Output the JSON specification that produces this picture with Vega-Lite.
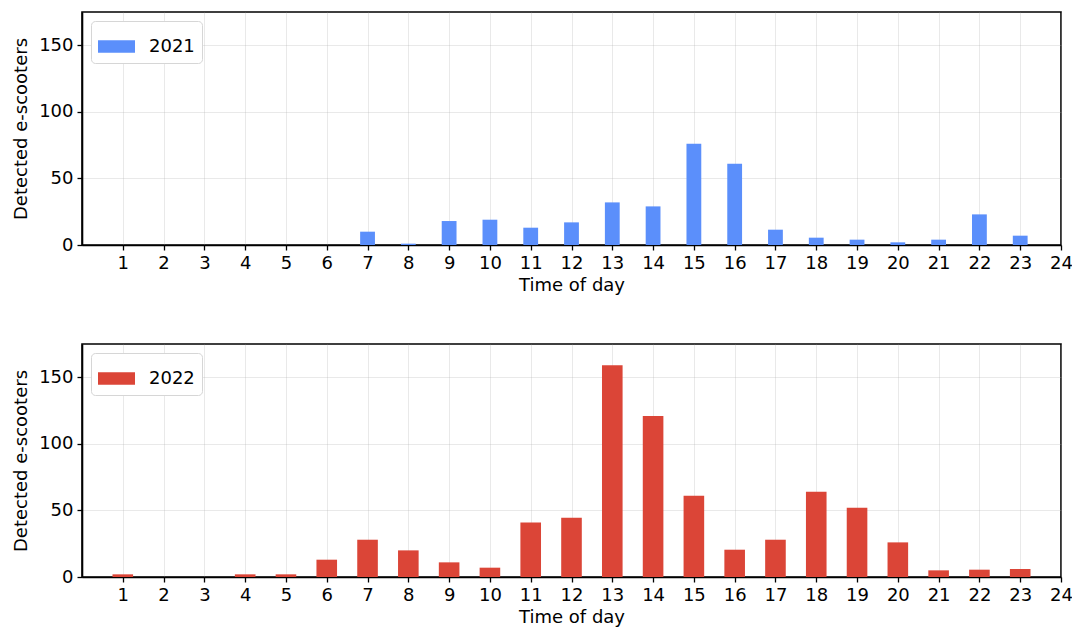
{
  "$schema": "https://vega.github.io/schema/vega-lite/v6.json",
  "padding": {"left": 11, "top": 11, "right": 0, "bottom": 0},
  "background": "white",
  "datasets": {
    "scooters": [
      {"hour": 1, "count": 0, "year": "2021"},
      {"hour": 2, "count": 0, "year": "2021"},
      {"hour": 3, "count": 0, "year": "2021"},
      {"hour": 4, "count": 0, "year": "2021"},
      {"hour": 5, "count": 0, "year": "2021"},
      {"hour": 6, "count": 0, "year": "2021"},
      {"hour": 7, "count": 10, "year": "2021"},
      {"hour": 8, "count": 1, "year": "2021"},
      {"hour": 9, "count": 18, "year": "2021"},
      {"hour": 10, "count": 19, "year": "2021"},
      {"hour": 11, "count": 13, "year": "2021"},
      {"hour": 12, "count": 17, "year": "2021"},
      {"hour": 13, "count": 32, "year": "2021"},
      {"hour": 14, "count": 29, "year": "2021"},
      {"hour": 15, "count": 76, "year": "2021"},
      {"hour": 16, "count": 61, "year": "2021"},
      {"hour": 17, "count": 11.5, "year": "2021"},
      {"hour": 18, "count": 5.5, "year": "2021"},
      {"hour": 19, "count": 4, "year": "2021"},
      {"hour": 20, "count": 2, "year": "2021"},
      {"hour": 21, "count": 4, "year": "2021"},
      {"hour": 22, "count": 23, "year": "2021"},
      {"hour": 23, "count": 7, "year": "2021"},
      {"hour": 1, "count": 2, "year": "2022"},
      {"hour": 2, "count": 0, "year": "2022"},
      {"hour": 3, "count": 0, "year": "2022"},
      {"hour": 4, "count": 2, "year": "2022"},
      {"hour": 5, "count": 2, "year": "2022"},
      {"hour": 6, "count": 13, "year": "2022"},
      {"hour": 7, "count": 28, "year": "2022"},
      {"hour": 8, "count": 20, "year": "2022"},
      {"hour": 9, "count": 11, "year": "2022"},
      {"hour": 10, "count": 7, "year": "2022"},
      {"hour": 11, "count": 41, "year": "2022"},
      {"hour": 12, "count": 44.5, "year": "2022"},
      {"hour": 13, "count": 159, "year": "2022"},
      {"hour": 14, "count": 121, "year": "2022"},
      {"hour": 15, "count": 61, "year": "2022"},
      {"hour": 16, "count": 20.5, "year": "2022"},
      {"hour": 17, "count": 28, "year": "2022"},
      {"hour": 18, "count": 64, "year": "2022"},
      {"hour": 19, "count": 52, "year": "2022"},
      {"hour": 20, "count": 26, "year": "2022"},
      {"hour": 21, "count": 5, "year": "2022"},
      {"hour": 22, "count": 5.5, "year": "2022"},
      {"hour": 23, "count": 6, "year": "2022"}
    ]
  },
  "spacing": 48,
  "vconcat": [
    {
      "width": 979,
      "height": 233,
      "data": {"name": "scooters"},
      "transform": [{"filter": "datum.year === '2021'"}],
      "mark": {"type": "bar", "width": 14.8},
      "encoding": {
        "x": {"field": "hour", "type": "quantitative", "title": "Time of day",
              "scale": {"domain": [0, 24], "nice": false, "zero": false, "padding": 0},
              "axis": {"values": [1,2,3,4,5,6,7,8,9,10,11,12,13,14,15,16,17,18,19,20,21,22,23,24], "labelFlush": false}},
        "y": {"field": "count", "type": "quantitative", "title": "Detected e-scooters",
              "scale": {"domain": [0, 175], "nice": false},
              "axis": {"values": [0, 50, 100, 150]}},
        "color": {"field": "year", "type": "nominal",
                  "scale": {"domain": ["2021"], "range": ["#5b8ffb"]},
                  "legend": {"title": null}}
      }
    },
    {
      "width": 979,
      "height": 233,
      "data": {"name": "scooters"},
      "transform": [{"filter": "datum.year === '2022'"}],
      "mark": {"type": "bar", "width": 20.6},
      "encoding": {
        "x": {"field": "hour", "type": "quantitative", "title": "Time of day",
              "scale": {"domain": [0, 24], "nice": false, "zero": false, "padding": 0},
              "axis": {"values": [1,2,3,4,5,6,7,8,9,10,11,12,13,14,15,16,17,18,19,20,21,22,23,24], "labelFlush": false}},
        "y": {"field": "count", "type": "quantitative", "title": "Detected e-scooters",
              "scale": {"domain": [0, 175], "nice": false},
              "axis": {"values": [0, 50, 100, 150]}},
        "color": {"field": "year", "type": "nominal",
                  "scale": {"domain": ["2022"], "range": ["#db4537"]},
                  "legend": {"title": null}}
      }
    }
  ],
  "resolve": {"scale": {"color": "independent"}, "legend": {"color": "independent"}},
  "config": {
    "font": "DejaVu Sans",
    "view": {"stroke": "black", "strokeWidth": 1.6},
    "axis": {
      "zindex": 1,
      "domainColor": "black",
      "domainWidth": 1.6,
      "tickColor": "black",
      "tickWidth": 1.3,
      "tickSize": 5,
      "labelFontSize": 18,
      "labelColor": "black",
      "labelPadding": 4,
      "titleFontSize": 18,
      "titleFontWeight": "normal",
      "titleColor": "black",
      "grid": true,
      "gridColor": "#b0b0b0",
      "gridOpacity": 0.28,
      "gridWidth": 1
    },
    "axisX": {"titlePadding": 4},
    "axisY": {"titlePadding": 8},
    "legend": {
      "orient": "top-left",
      "offset": 9,
      "fillColor": "white",
      "strokeColor": "#d6d6d6",
      "cornerRadius": 4,
      "padding": 7,
      "symbolType": "M-1,-0.34H1V0.34H-1Z",
      "symbolSize": 1369,
      "symbolStrokeWidth": 0,
      "symbolOpacity": 1,
      "labelFontSize": 18,
      "labelColor": "black",
      "labelOffset": 14
    }
  }
}
